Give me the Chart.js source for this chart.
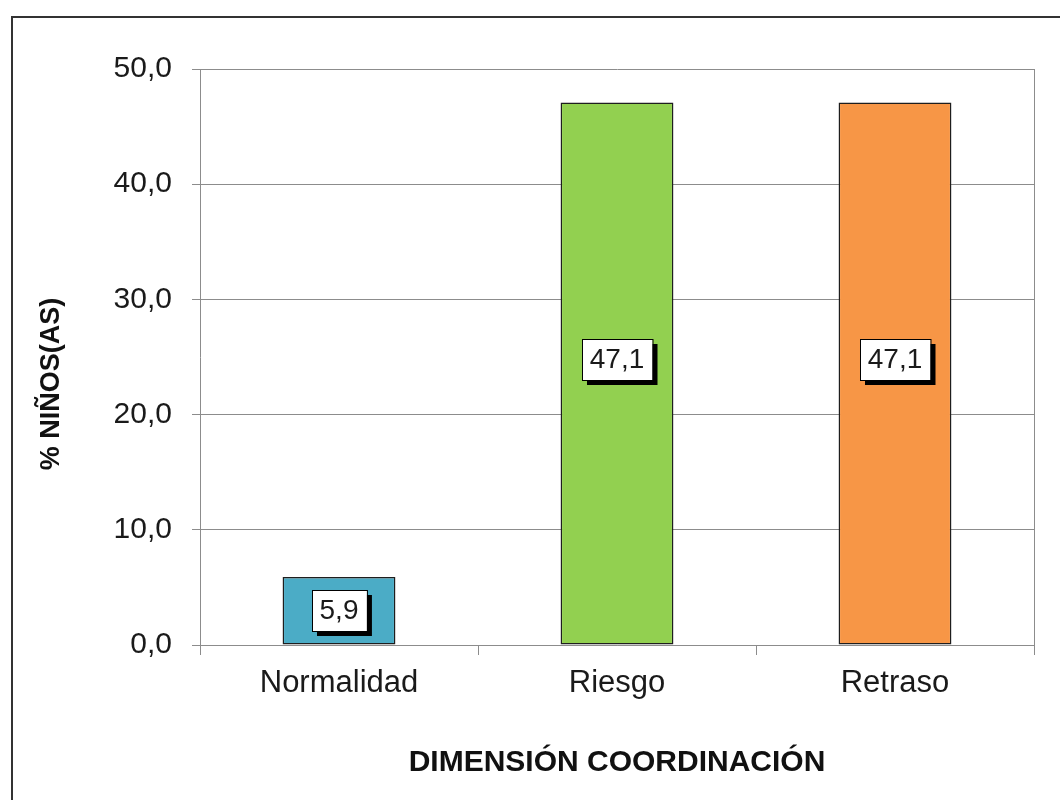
<!DOCTYPE html>
<html>
<head>
<meta charset="utf-8">
<script src="https://cdn.jsdelivr.net/npm/chart.js@4/dist/chart.umd.min.js"></script>
<style>
  html, body { margin: 0; padding: 0; background: #fff; }
  #wrap { width: 1060px; height: 800px; position: relative; }
</style>
</head>
<body>
<div id="wrap"><canvas id="chart"></canvas></div>
<script>
// Datos del gráfico
const categorias = ['Normalidad', 'Riesgo', 'Retraso'];
const porcentajes = [5.9, 47.1, 47.1];
const coloresBarras = ['#4BACC6', '#92D050', '#F79646'];
const tituloY = '% NIÑOS(AS)';
const tituloX = 'DIMENSIÓN COORDINACIÓN';

Chart.defaults.font.family = "Arial, 'Liberation Sans', sans-serif";
Chart.defaults.color = '#1a1a1a';

const fmt = v => v.toFixed(1).replace('.', ',');

// Marco exterior, borde del área de trazado y título del eje Y
const marcoPlugin = {
    id: 'marco',
    beforeDraw(chart) {
        const c = chart.ctx;
        c.save();
        c.fillStyle = '#fff';
        c.fillRect(0, 0, chart.width, chart.height);
        c.strokeStyle = '#333';
        c.lineWidth = 2;
        c.strokeRect(12, 17, chart.width, chart.height);
        c.restore();
    },
    afterDraw(chart) {
        const a = chart.chartArea;
        const c = chart.ctx;
        c.save();
        c.strokeStyle = '#8c8c8c';
        c.lineWidth = 1;
        c.beginPath();
        c.moveTo(Math.round(a.right) + 0.5, a.top);
        c.lineTo(Math.round(a.right) + 0.5, a.bottom + 10);
        c.stroke();

        // título vertical
        c.translate(52, 384);
        c.rotate(-Math.PI / 2);
        c.font = "bold 27px Arial, 'Liberation Sans', sans-serif";
        c.fillStyle = '#111';
        c.textAlign = 'center';
        c.textBaseline = 'middle';
        c.fillText(tituloY, 0, 0);
        c.restore();
    }
};

// Etiquetas con caja y sombra
const etiquetasPlugin = {
    id: 'etiquetas',
    afterDatasetsDraw(chart) {
        const c = chart.ctx;
        const meta = chart.getDatasetMeta(0);
        c.save();
        c.font = "28px Arial, 'Liberation Sans', sans-serif";
        c.textAlign = 'center';
        c.textBaseline = 'middle';
        meta.data.forEach((bar, i) => {
            const txt = fmt(porcentajes[i]);
            const w = c.measureText(txt).width + 16;
            const h = 41;
            const cx = bar.x;
            let cy = (bar.y + bar.base) / 2;
            if (bar.base - bar.y > 200) cy -= 14;
            const x0 = Math.round(cx - w / 2), y0 = Math.round(cy - h / 2);
            c.fillStyle = '#000';
            c.fillRect(x0 + 5, y0 + 5, w, h);
            c.fillStyle = '#fff';
            c.fillRect(x0, y0, w, h);
            c.strokeStyle = '#000';
            c.lineWidth = 1;
            c.strokeRect(x0 + 0.5, y0 + 0.5, w, h);
            c.fillStyle = '#1a1a1a';
            c.fillText(txt, cx, cy + 1);
        });
        c.restore();
    }
};

new Chart(document.getElementById('chart'), {
    type: 'bar',
    data: {
        labels: categorias,
        datasets: [{
            data: porcentajes,
            backgroundColor: coloresBarras,
            borderColor: '#1e1e1e',
            borderWidth: 1.5,
            borderSkipped: false,
            categoryPercentage: 1,
            barPercentage: 0.406
        }]
    },
    options: {
        responsive: true,
        maintainAspectRatio: false,
        animation: false,
        layout: { padding: { top: 69, right: 26, left: 0, bottom: 0 } },
        plugins: {
            legend: { display: false },
            tooltip: { enabled: false }
        },
        scales: {
            y: {
                min: 0,
                max: 50,
                afterFit(scale) { scale.width = 200; },
                ticks: {
                    stepSize: 10,
                    padding: 20,
                    font: { size: 30 },
                    callback: v => fmt(v)
                },
                grid: { color: '#8c8c8c', lineWidth: 1, tickLength: 8 },
                border: { color: '#8c8c8c', width: 1 }
            },
            x: {
                afterFit(scale) { scale.height = 155; },
                ticks: {
                    padding: 10,
                    font: { size: 31 }
                },
                grid: { drawOnChartArea: false, color: '#8c8c8c', tickLength: 10, offset: true },
                border: { color: '#8c8c8c', width: 1 },
                title: {
                    display: true,
                    text: tituloX,
                    color: '#111',
                    font: { size: 30, weight: 'bold' },
                    padding: { top: 0, bottom: 19 }
                }
            }
        }
    },
    plugins: [marcoPlugin, etiquetasPlugin]
});
</script>
</body>
</html>
